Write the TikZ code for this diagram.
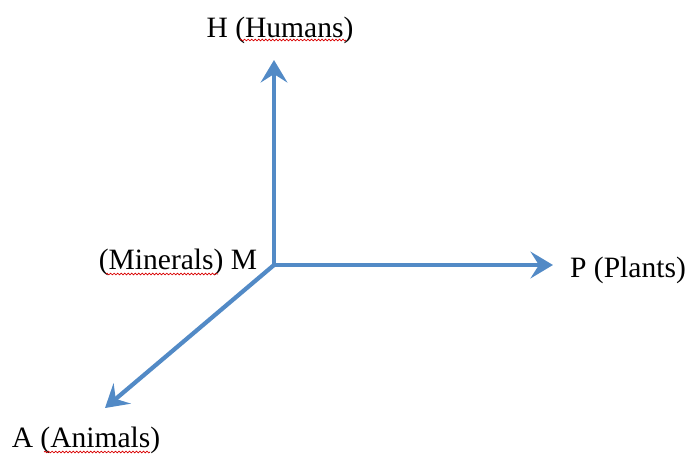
\documentclass[tikz,border=0pt]{standalone}
\usepackage{fontspec}
\setmainfont{Liberation Serif}
\usetikzlibrary{arrows.meta,decorations.pathmorphing}

\definecolor{axisblue}{RGB}{82,138,198}

\begin{document}
\begin{tikzpicture}[x=0.025cm, y=-0.025cm,
    axis/.style = {draw = axisblue, line width = 3pt,
        -{Stealth[length = 16pt, width = 19pt, inset = 6pt]}},
    lbl/.style = {font = \fontsize{21}{24}\selectfont, inner sep = 0pt},
    spellmark/.style = {draw = red!85!black, line width = 0.5pt,
        decorate, decoration = {snake, amplitude = 0.6pt, segment length = 2.5pt}}]

    \useasboundingbox (0,0) rectangle (691,455);

    \coordinate (m) at (274,265);
    \coordinate (h) at (274,60);
    \coordinate (p) at (553,265);
    \coordinate (a) at (105,408);

    \node[lbl] (hlabel) at (280,30) {H (Humans)};
    \node[lbl] (mlabel) at (178,262) {(Minerals) M};
    \node[lbl] (plabel) at (628,270) {P (Plants)};
    \node[lbl] (alabel) at (86,440) {A (Animals)};

    % spelling marks
    \draw[spellmark] (240,40) -- (346,40);
    \draw[spellmark] (106,274) -- (218,274);
    \draw[spellmark] (44,452) -- (150,452);

      \draw[axis] (m) to (h);
      \draw[axis] (m) to (p);
      \draw[axis] (m) to (a);
\end{tikzpicture}
\end{document}
